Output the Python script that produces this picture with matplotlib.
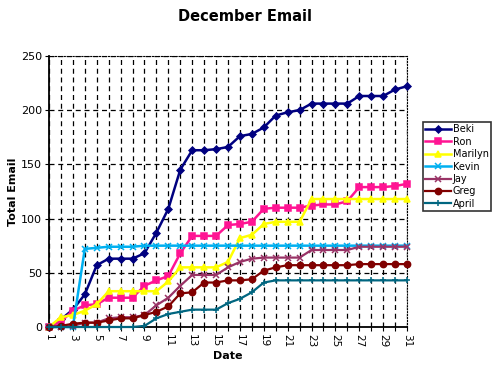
import matplotlib
matplotlib.use('Agg')
import matplotlib.pyplot as plt

days = list(range(1, 32))

beki = [0, 7, 16, 30, 57, 63, 63, 63, 68, 87, 109, 145, 163, 163, 164, 166,
        176, 178, 184, 195, 198, 200, 206, 206, 206, 206, 213, 213, 213, 219, 222]
ron = [0, 5, 15, 20, 21, 27, 27, 27, 38, 43, 47, 68, 84, 84, 84, 94,
       95, 97, 109, 110, 110, 110, 112, 113, 113, 116, 129, 129, 129, 130, 132]
marilyn = [0, 9, 11, 15, 21, 33, 33, 33, 33, 33, 42, 55, 55, 55, 55, 60,
           82, 85, 95, 97, 97, 97, 118, 118, 118, 118, 118, 118, 118, 118, 118]
kevin = [0, 0, 0, 72, 73, 74, 74, 74, 75, 75, 75, 75, 75, 75, 75, 75,
         75, 75, 75, 75, 75, 75, 75, 75, 75, 75, 75, 75, 75, 75, 75]
jay = [0, 0, 1, 4, 4, 8, 9, 9, 11, 20, 27, 38, 48, 48, 48, 55,
       60, 63, 64, 64, 64, 64, 71, 71, 71, 71, 74, 74, 74, 74, 74]
greg = [0, 1, 3, 4, 4, 6, 8, 8, 11, 14, 19, 31, 32, 41, 41, 43,
        43, 44, 52, 55, 57, 57, 57, 57, 57, 57, 58, 58, 58, 58, 58]
april = [0, 0, 0, 0, 0, 0, 0, 0, 1, 8, 12, 14, 16, 16, 16, 22,
         26, 32, 41, 43, 43, 43, 43, 43, 43, 43, 43, 43, 43, 43, 43]

names = ['Beki', 'Ron', 'Marilyn', 'Kevin', 'Jay', 'Greg', 'April']
series = [beki, ron, marilyn, kevin, jay, greg, april]
colors = ['#000080', '#FF1493', '#FFFF00', '#00B0F0', '#993366', '#800000', '#006680']
markers = ['D', 's', '^', 'x', 'x', 'o', '+']
sizes = [3.5, 4.5, 5, 5, 5, 4.5, 5]
widths = [1.8, 1.8, 1.8, 1.8, 1.6, 1.6, 1.6]

fig = plt.figure(figsize=(5, 3.75), dpi=100)
ax = fig.add_axes([0.098, 0.128, 0.716, 0.723])

for i in range(len(names)):
    ax.plot(days, series[i], color=colors[i], marker=markers[i], markersize=sizes[i],
            linewidth=widths[i], markeredgewidth=1.1, label=names[i], clip_on=False, zorder=3)

ax.set_xlim(1, 31)
ax.set_ylim(0, 250)
ax.set_xticks(days)
ax.set_xticklabels([str(d) if d % 2 == 1 else '' for d in days], rotation=270, fontsize=7.5)
ax.set_yticks([0, 50, 100, 150, 200, 250])
ax.tick_params(axis='y', labelsize=8, direction='out', length=3, pad=2)
ax.tick_params(axis='x', direction='out', length=3, pad=2)
ax.grid(True, color='black', linestyle=(0, (4, 3)), linewidth=0.9)
ax.spines['top'].set_linestyle(':')
ax.spines['right'].set_linestyle(':')
ax.spines['left'].set_linewidth(1.3)
ax.spines['bottom'].set_linewidth(1.3)

ax.set_xlabel('Date', fontweight='bold', fontsize=8, labelpad=3)
ax.set_ylabel('Total Email', fontweight='bold', fontsize=8, labelpad=2)
fig.text(0.49, 0.955, 'December Email', ha='center', va='center', fontsize=10.5,
         fontweight='bold')

leg = fig.legend(loc='upper left', bbox_to_anchor=(0.846, 0.675), fontsize=7,
                 frameon=True, fancybox=False, edgecolor='black', borderpad=0.25,
                 labelspacing=0.25, handlelength=2.6, handletextpad=0.2, borderaxespad=0)
leg.get_frame().set_linewidth(1.2)

plt.savefig('out.png', dpi=100)
